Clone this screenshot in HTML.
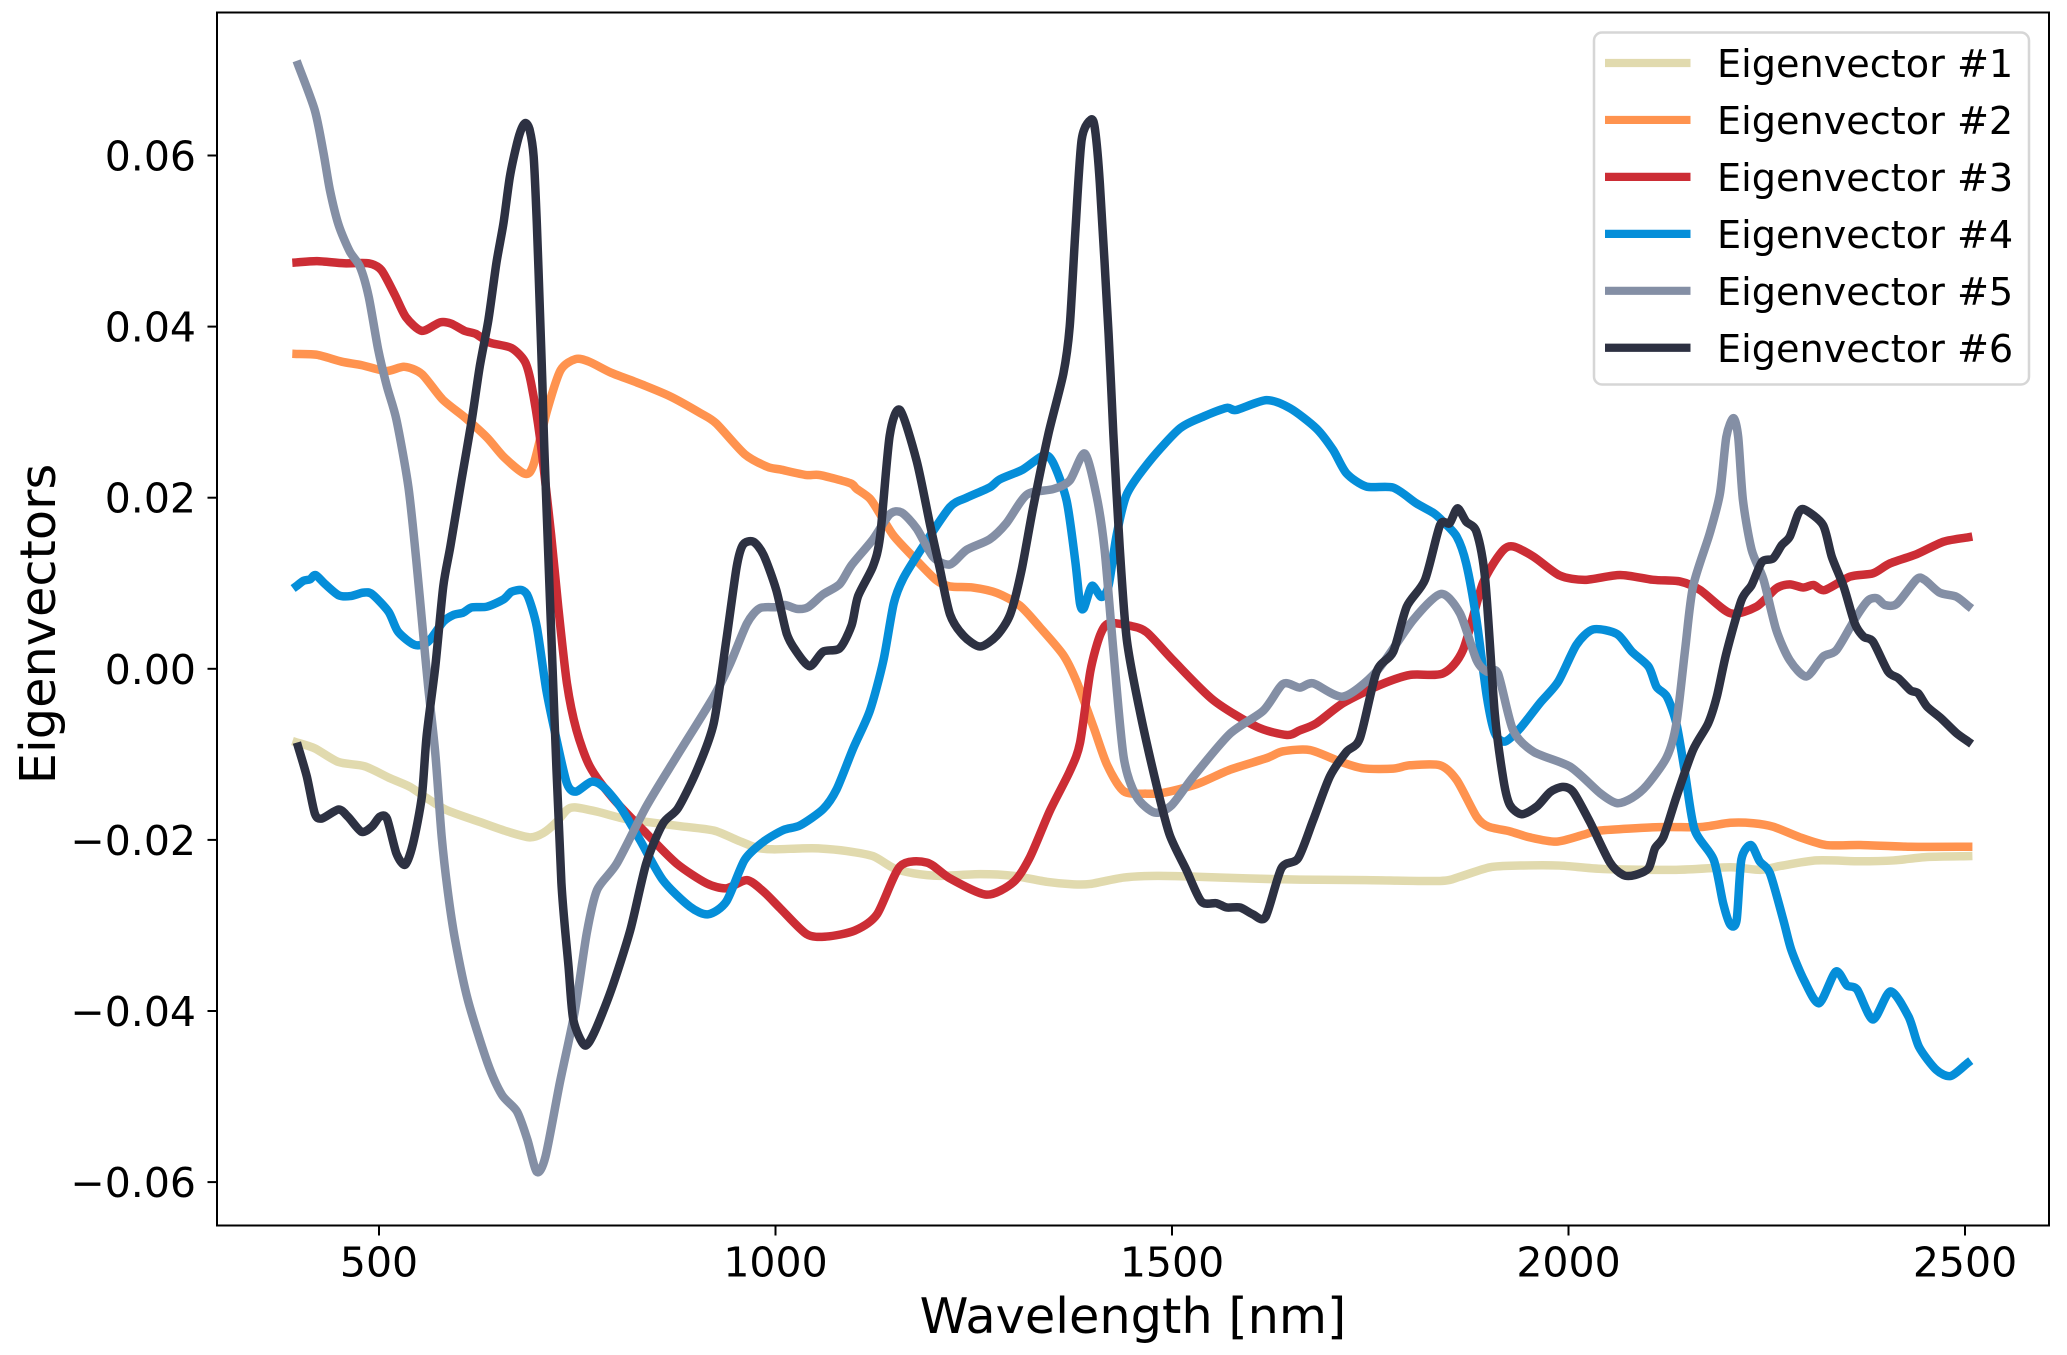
<!DOCTYPE html>
<html lang="en">
<head>
<meta charset="utf-8">
<title>Eigenvectors vs Wavelength</title>
<style>
html,body{margin:0;padding:0;background:#fff;width:2067px;height:1355px;overflow:hidden}
svg{display:block}
text{font-family:"DejaVu Sans","Liberation Sans",sans-serif;fill:#000}
</style>
</head>
<body>
<svg id="chart" xmlns="http://www.w3.org/2000/svg" width="2067" height="1355" viewBox="0 0 2067 1355"></svg>
<script>
// Each point is [wavelength in nm, eigenvector value x 10^-3]
const series1 = [[396,-8.6],[419,-9.3],[449,-10.9],[482,-11.4],[514,-12.8],[539,-13.8],[560,-15.1],[585,-16.5],[627,-17.9],[661,-19.0],[690,-19.7],[707,-19.2],[724,-17.9],[737,-16.5],[747,-16.2],[775,-16.7],[808,-17.5],[838,-17.9],[880,-18.4],[922,-18.9],[951,-20.0],[976,-20.9],[997,-21.1],[1031,-21.0],[1056,-21.0],[1090,-21.3],[1123,-21.9],[1149,-23.3],[1174,-23.9],[1207,-24.2],[1258,-24.0],[1300,-24.2],[1342,-24.9],[1376,-25.2],[1397,-25.15],[1439,-24.4],[1481,-24.2],[1531,-24.3],[1594,-24.5],[1661,-24.65],[1745,-24.7],[1838,-24.8],[1863,-24.3],[1901,-23.2],[1939,-23.0],[1989,-23.0],[2044,-23.4],[2136,-23.5],[2204,-23.2],[2242,-23.5],[2267,-23.05],[2313,-22.4],[2368,-22.5],[2410,-22.4],[2452,-22.0],[2504,-21.9]];
const series2 = [[396,36.8],[422,36.7],[453,35.9],[478,35.5],[509,34.8],[532,35.3],[554,34.45],[580,31.5],[608,29.4],[636,27.05],[658,24.7],[684,22.8],[695,23.9],[712,30.2],[729,34.9],[748,36.2],[765,35.9],[793,34.6],[827,33.4],[867,31.85],[905,29.9],[925,28.7],[961,25.1],[990,23.6],[1006,23.3],[1039,22.65],[1056,22.65],[1094,21.7],[1102,21.06],[1119,19.9],[1132,18.06],[1149,15.55],[1174,13.05],[1203,10.34],[1220,9.63],[1249,9.5],[1279,8.87],[1308,7.4],[1333,4.9],[1363,1.6],[1380,-1.56],[1401,-6.8],[1418,-11.2],[1439,-14.3],[1468,-14.6],[1489,-14.5],[1531,-13.5],[1573,-11.8],[1619,-10.45],[1640,-9.65],[1674,-9.5],[1712,-10.85],[1741,-11.63],[1779,-11.67],[1800,-11.28],[1838,-11.28],[1859,-13],[1884,-17.28],[1899,-18.45],[1926,-19],[1951,-19.7],[1985,-20.2],[2019,-19.4],[2040,-18.9],[2115,-18.5],[2166,-18.5],[2204,-18],[2233,-18.05],[2258,-18.45],[2292,-19.7],[2325,-20.6],[2368,-20.6],[2431,-20.8],[2504,-20.8]];
const series3 = [[396,47.5],[422,47.65],[456,47.4],[487,47.4],[503,46.6],[520,43.7],[534,41.1],[554,39.5],[577,40.5],[591,40.35],[608,39.5],[622,39.15],[639,38.15],[667,37.5],[684,35.9],[692,33.3],[703,27],[717,15.7],[726,7.26],[737,-1.7],[749,-7.15],[766,-11.44],[795,-15.14],[837,-19.23],[875,-22.74],[913,-25.07],[938,-25.66],[964,-24.7],[985,-26.05],[1006,-28],[1039,-31],[1064,-31.3],[1100,-30.6],[1128,-28.7],[1157,-23.1],[1191,-22.65],[1220,-24.5],[1266,-26.4],[1300,-24.94],[1321,-22],[1346,-16.6],[1371,-12],[1384,-8.66],[1397,-0.3],[1409,3.86],[1420,5.3],[1447,5.03],[1468,4.28],[1502,0.94],[1552,-3.65],[1607,-6.78],[1645,-7.74],[1661,-7.2],[1682,-6.37],[1716,-4],[1762,-1.9],[1800,-0.72],[1842,-0.53],[1867,2.2],[1892,10],[1916,13.7],[1930,14.3],[1956,13.1],[1989,10.9],[2021,10.4],[2065,10.97],[2107,10.4],[2141,10.2],[2166,9.2],[2204,6.5],[2237,7.26],[2262,9.4],[2279,9.87],[2296,9.5],[2309,9.8],[2323,9.2],[2355,10.77],[2384,11.16],[2405,12.3],[2439,13.4],[2473,14.86],[2504,15.37]];
const series4 = [[396,9.68],[405,10.3],[413,10.46],[420,10.96],[432,9.9],[449,8.6],[464,8.5],[480,8.9],[491,8.74],[512,6.68],[524,4.34],[545,2.8],[562,3.17],[581,5.5],[594,6.3],[606,6.56],[617,7.18],[636,7.26],[657,8.12],[667,9],[680,9.2],[688,8.43],[699,4.9],[711,-2.5],[724,-8.32],[737,-13.4],[748,-14.36],[768,-13.2],[783,-13.8],[804,-16.1],[829,-20],[858,-24.7],[892,-27.8],[915,-28.7],[938,-27.2],[961,-22.35],[985,-20.2],[1010,-18.84],[1031,-18.3],[1060,-16.4],[1077,-14.1],[1098,-9.3],[1119,-4.9],[1136,0.94],[1149,7.6],[1161,10.55],[1186,14.3],[1220,18.9],[1241,20],[1270,21.2],[1283,22.15],[1312,23.3],[1338,24.95],[1350,24.1],[1367,19.7],[1378,12.6],[1384,7.6],[1389,7.1],[1399,9.7],[1411,8.4],[1420,9.7],[1430,15.55],[1443,20.4],[1472,24.3],[1510,28.1],[1540,29.5],[1569,30.5],[1581,30.25],[1619,31.4],[1649,30.45],[1682,28.1],[1703,25.6],[1720,22.85],[1745,21.3],[1779,21.18],[1808,19.35],[1830,18.2],[1842,17.2],[1859,15.45],[1871,12.3],[1884,5.7],[1897,-3.25],[1907,-7.5],[1920,-8.5],[1939,-6.95],[1964,-4],[1987,-1.5],[2010,2.8],[2031,4.6],[2061,4.07],[2080,2],[2101,0.25],[2111,-2.1],[2124,-3.25],[2136,-6.37],[2147,-12.2],[2159,-18.8],[2183,-22.3],[2195,-27.4],[2204,-29.9],[2212,-29.4],[2218,-22.3],[2230,-20.6],[2241,-22.5],[2254,-23.9],[2271,-29.4],[2281,-32.87],[2297,-36.4],[2316,-39.1],[2337,-35.4],[2351,-37],[2364,-37.5],[2384,-41],[2406,-37.7],[2429,-40.7],[2442,-44.2],[2464,-46.9],[2482,-47.6],[2503,-46.1]];
const series5 = [[398,70.6],[419,65.3],[430,60.3],[438,56],[449,51.9],[463,48.8],[476,47],[487,43.5],[499,37.3],[510,33],[522,29.1],[537,21.3],[547,12.7],[556,3.76],[562,-2.1],[571,-9.9],[579,-19.6],[587,-26.2],[596,-31.7],[612,-38.7],[637,-46.1],[655,-49.8],[674,-51.75],[687,-55],[699,-58.8],[710,-57],[728,-48.4],[747,-40],[762,-30.9],[775,-25.85],[800,-22.74],[837,-16.1],[875,-10.3],[922,-3.25],[943,0.64],[964,5.3],[980,7.07],[1001,7.2],[1012,7.46],[1027,7],[1041,7.2],[1060,8.7],[1081,9.9],[1096,12.13],[1123,15.14],[1144,18.06],[1159,18.27],[1178,16.4],[1199,13.05],[1220,12.2],[1241,13.9],[1270,15.14],[1291,17],[1317,20.36],[1350,21],[1371,22],[1390,25.16],[1405,20.15],[1415,13.9],[1426,2.2],[1439,-10.3],[1455,-14.9],[1478,-16.8],[1499,-16],[1527,-12.6],[1573,-7.6],[1615,-4.9],[1640,-1.77],[1661,-2.2],[1678,-1.7],[1716,-3.25],[1758,-0.3],[1804,5.7],[1839,8.75],[1863,6.5],[1884,1.03],[1897,-0.33],[1911,-0.53],[1930,-7.15],[1956,-9.7],[2002,-11.44],[2040,-14.55],[2061,-15.7],[2080,-15.1],[2099,-13.6],[2124,-10.3],[2136,-6.4],[2147,2.2],[2157,9.6],[2178,15.8],[2191,20.5],[2199,27.1],[2208,29.3],[2214,27.1],[2220,19.7],[2231,13.9],[2246,10.4],[2262,4.54],[2279,1],[2300,-0.9],[2321,1.42],[2338,2.2],[2363,6.1],[2378,8],[2389,8.24],[2399,7.46],[2414,7.6],[2439,10.46],[2449,10.4],[2468,8.9],[2489,8.43],[2504,7.35]];
const series6 = [[398,-9.1],[409,-12.6],[419,-16.9],[428,-17.5],[449,-16.45],[461,-17.3],[478,-19.05],[491,-18.45],[501,-17.3],[510,-17.5],[522,-21.6],[533,-22.9],[543,-20.4],[554,-14.95],[560,-7.9],[571,0.25],[581,9.6],[590,14.3],[604,22.07],[617,29.08],[627,35.3],[638,40.8],[648,47.4],[657,52.1],[665,57.5],[674,61.4],[680,63.2],[685,63.8],[690,63],[695,59.9],[699,52.1],[703,41.6],[706,33.4],[709,24.4],[722,-7.5],[730,-25],[739,-34.8],[745,-41],[759,-44],[771,-42.6],[793,-37.5],[817,-30.5],[837,-22.74],[858,-18.1],[877,-16.3],[901,-11.83],[922,-6.4],[938,3.37],[951,11.9],[959,14.5],[972,14.86],[985,13.3],[1001,9.2],[1014,4.15],[1025,2.2],[1043,0.3],[1060,2],[1081,2.4],[1096,5.1],[1104,8.46],[1123,12],[1132,15.55],[1144,27.25],[1157,30.25],[1178,24.3],[1195,16.8],[1207,11.8],[1220,6.37],[1237,3.87],[1258,2.6],[1279,3.87],[1296,6.37],[1310,11.4],[1325,18.9],[1344,27.4],[1363,34.5],[1371,40],[1378,50.9],[1386,61.8],[1398,64.2],[1403,63],[1409,56.75],[1420,39.2],[1426,27.5],[1434,14.3],[1443,3.4],[1460,-5.2],[1481,-13.8],[1497,-19.4],[1518,-23.5],[1537,-27.2],[1556,-27.4],[1569,-27.9],[1586,-27.9],[1602,-28.7],[1618,-29],[1638,-23.3],[1659,-22.15],[1678,-17.7],[1699,-12.6],[1720,-9.7],[1737,-8.1],[1758,-0.33],[1779,2],[1796,7.26],[1819,10.4],[1838,16.8],[1850,17],[1860,18.76],[1871,17.2],[1884,16],[1895,10.4],[1907,-5.2],[1918,-13],[1926,-15.9],[1941,-17],[1960,-16.1],[1977,-14.4],[1993,-13.8],[2006,-14.4],[2027,-17.9],[2052,-22.6],[2069,-24.1],[2084,-24.1],[2101,-23.3],[2109,-21],[2120,-19.6],[2136,-15],[2157,-9.5],[2176,-6.4],[2187,-3.26],[2199,1.8],[2218,8],[2231,9.8],[2244,12.5],[2258,12.9],[2269,14.47],[2279,15.44],[2290,18.2],[2298,18.6],[2321,16.8],[2332,13.1],[2347,9.6],[2361,5.3],[2372,3.76],[2384,3.17],[2403,-0.33],[2416,-1.1],[2431,-2.5],[2441,-2.87],[2452,-4.4],[2470,-5.8],[2489,-7.5],[2504,-8.5]];
const seriesData = [series1, series2, series3, series4, series5, series6];
const seriesLabels = ["Eigenvector #1","Eigenvector #2","Eigenvector #3","Eigenvector #4","Eigenvector #5","Eigenvector #6"];
const seriesColors = ["#E1DAAE","#FF934F","#CC2D35","#058ED9","#848FA5","#2D3142"];
const xTickValues = [500,1000,1500,2000,2500];
const xTickLabels = ["500","1000","1500","2000","2500"];
const yTickValues = [0.06,0.04,0.02,0,-0.02,-0.04,-0.06];
const yTickLabels = ["0.06","0.04","0.02","0.00","\u22120.02","\u22120.04","\u22120.06"];
const valueUnit = 0.001;

const NS = "http://www.w3.org/2000/svg";
const svg = document.getElementById("chart");
const xScale = v => 379 + (v - 500) * 0.793;
const yScale = v => 668.8 - v * 8555;

function make(tag, attrs, parent) {
  const el = document.createElementNS(NS, tag);
  for (const k in attrs) el.setAttribute(k, attrs[k]);
  (parent || svg).appendChild(el);
  return el;
}
function smoothPath(points) {
  const p = points.map(d => [xScale(d[0]), yScale(d[1] * valueUnit)]);
  let out = "M" + p[0][0].toFixed(2) + " " + p[0][1].toFixed(2);
  for (let i = 0; i < p.length - 1; i++) {
    const a = p[Math.max(i - 1, 0)], b = p[i], c = p[i + 1], d = p[Math.min(i + 2, p.length - 1)];
    const k = 0.13;
    const c1x = b[0] + (c[0] - a[0]) * k, c1y = b[1] + (c[1] - a[1]) * k;
    const c2x = c[0] - (d[0] - b[0]) * k, c2y = c[1] - (d[1] - b[1]) * k;
    out += "C" + c1x.toFixed(2) + " " + c1y.toFixed(2) + " " + c2x.toFixed(2) + " " + c2y.toFixed(2) + " " + c[0].toFixed(2) + " " + c[1].toFixed(2);
  }
  return out;
}

const background = make("rect", {x:0, y:0, width:2067, height:1355, fill:"#fff"});



seriesData.forEach((data, i) => {
  const line = make("path", {d:smoothPath(data), fill:"none", stroke:seriesColors[i], "stroke-width":8.5, "stroke-linejoin":"round", "stroke-linecap":"square"});
  
  
});

const frame = make("rect", {x:217, y:12.5, width:1832, height:1213, fill:"none", stroke:"#000", "stroke-width":2});



xTickValues.forEach((v, i) => {
  const x = xScale(v);
  const tick = make("line", {x1:x, x2:x, y1:1226, y2:1235.5, stroke:"#000", "stroke-width":2});
  
  
  const label = make("text", {x:x, y:1276.5, "text-anchor":"middle", "font-size":41});
  label.textContent = xTickLabels[i];
  
  
});
yTickValues.forEach((v, i) => {
  const y = yScale(v);
  const tick = make("line", {x1:207.5, x2:217, y1:y, y2:y, stroke:"#000", "stroke-width":2});
  
  
  const label = make("text", {x:196, y:y + 15, "text-anchor":"end", "font-size":41});
  label.textContent = yTickLabels[i];
  
  
});

const xTitle = make("text", {x:1133, y:1333, "text-anchor":"middle", "font-size":49.4});
xTitle.textContent = "Wavelength [nm]";



const yTitle = make("text", {x:0, y:0, "text-anchor":"middle", "font-size":49.4, transform:"translate(55 624) rotate(-90)"});
yTitle.textContent = "Eigenvectors";



const legend = make("g", {});


const legendBox = make("rect", {x:1594, y:32.5, width:435, height:352, rx:8, ry:8, fill:"#fff", "fill-opacity":0.8, stroke:"#d6d6d6", "stroke-width":2.5}, legend);


seriesLabels.forEach((name, i) => {
  const y = 63 + i * 56.95;
  const swatch = make("line", {x1:1605, x2:1690.5, y1:y, y2:y, stroke:seriesColors[i], "stroke-width":8.2}, legend);
  
  
  const text = make("text", {x:1717, y:y + 14, "font-size":38.2}, legend);
  text.textContent = name;
  
  
});
</script>
</body>
</html>
